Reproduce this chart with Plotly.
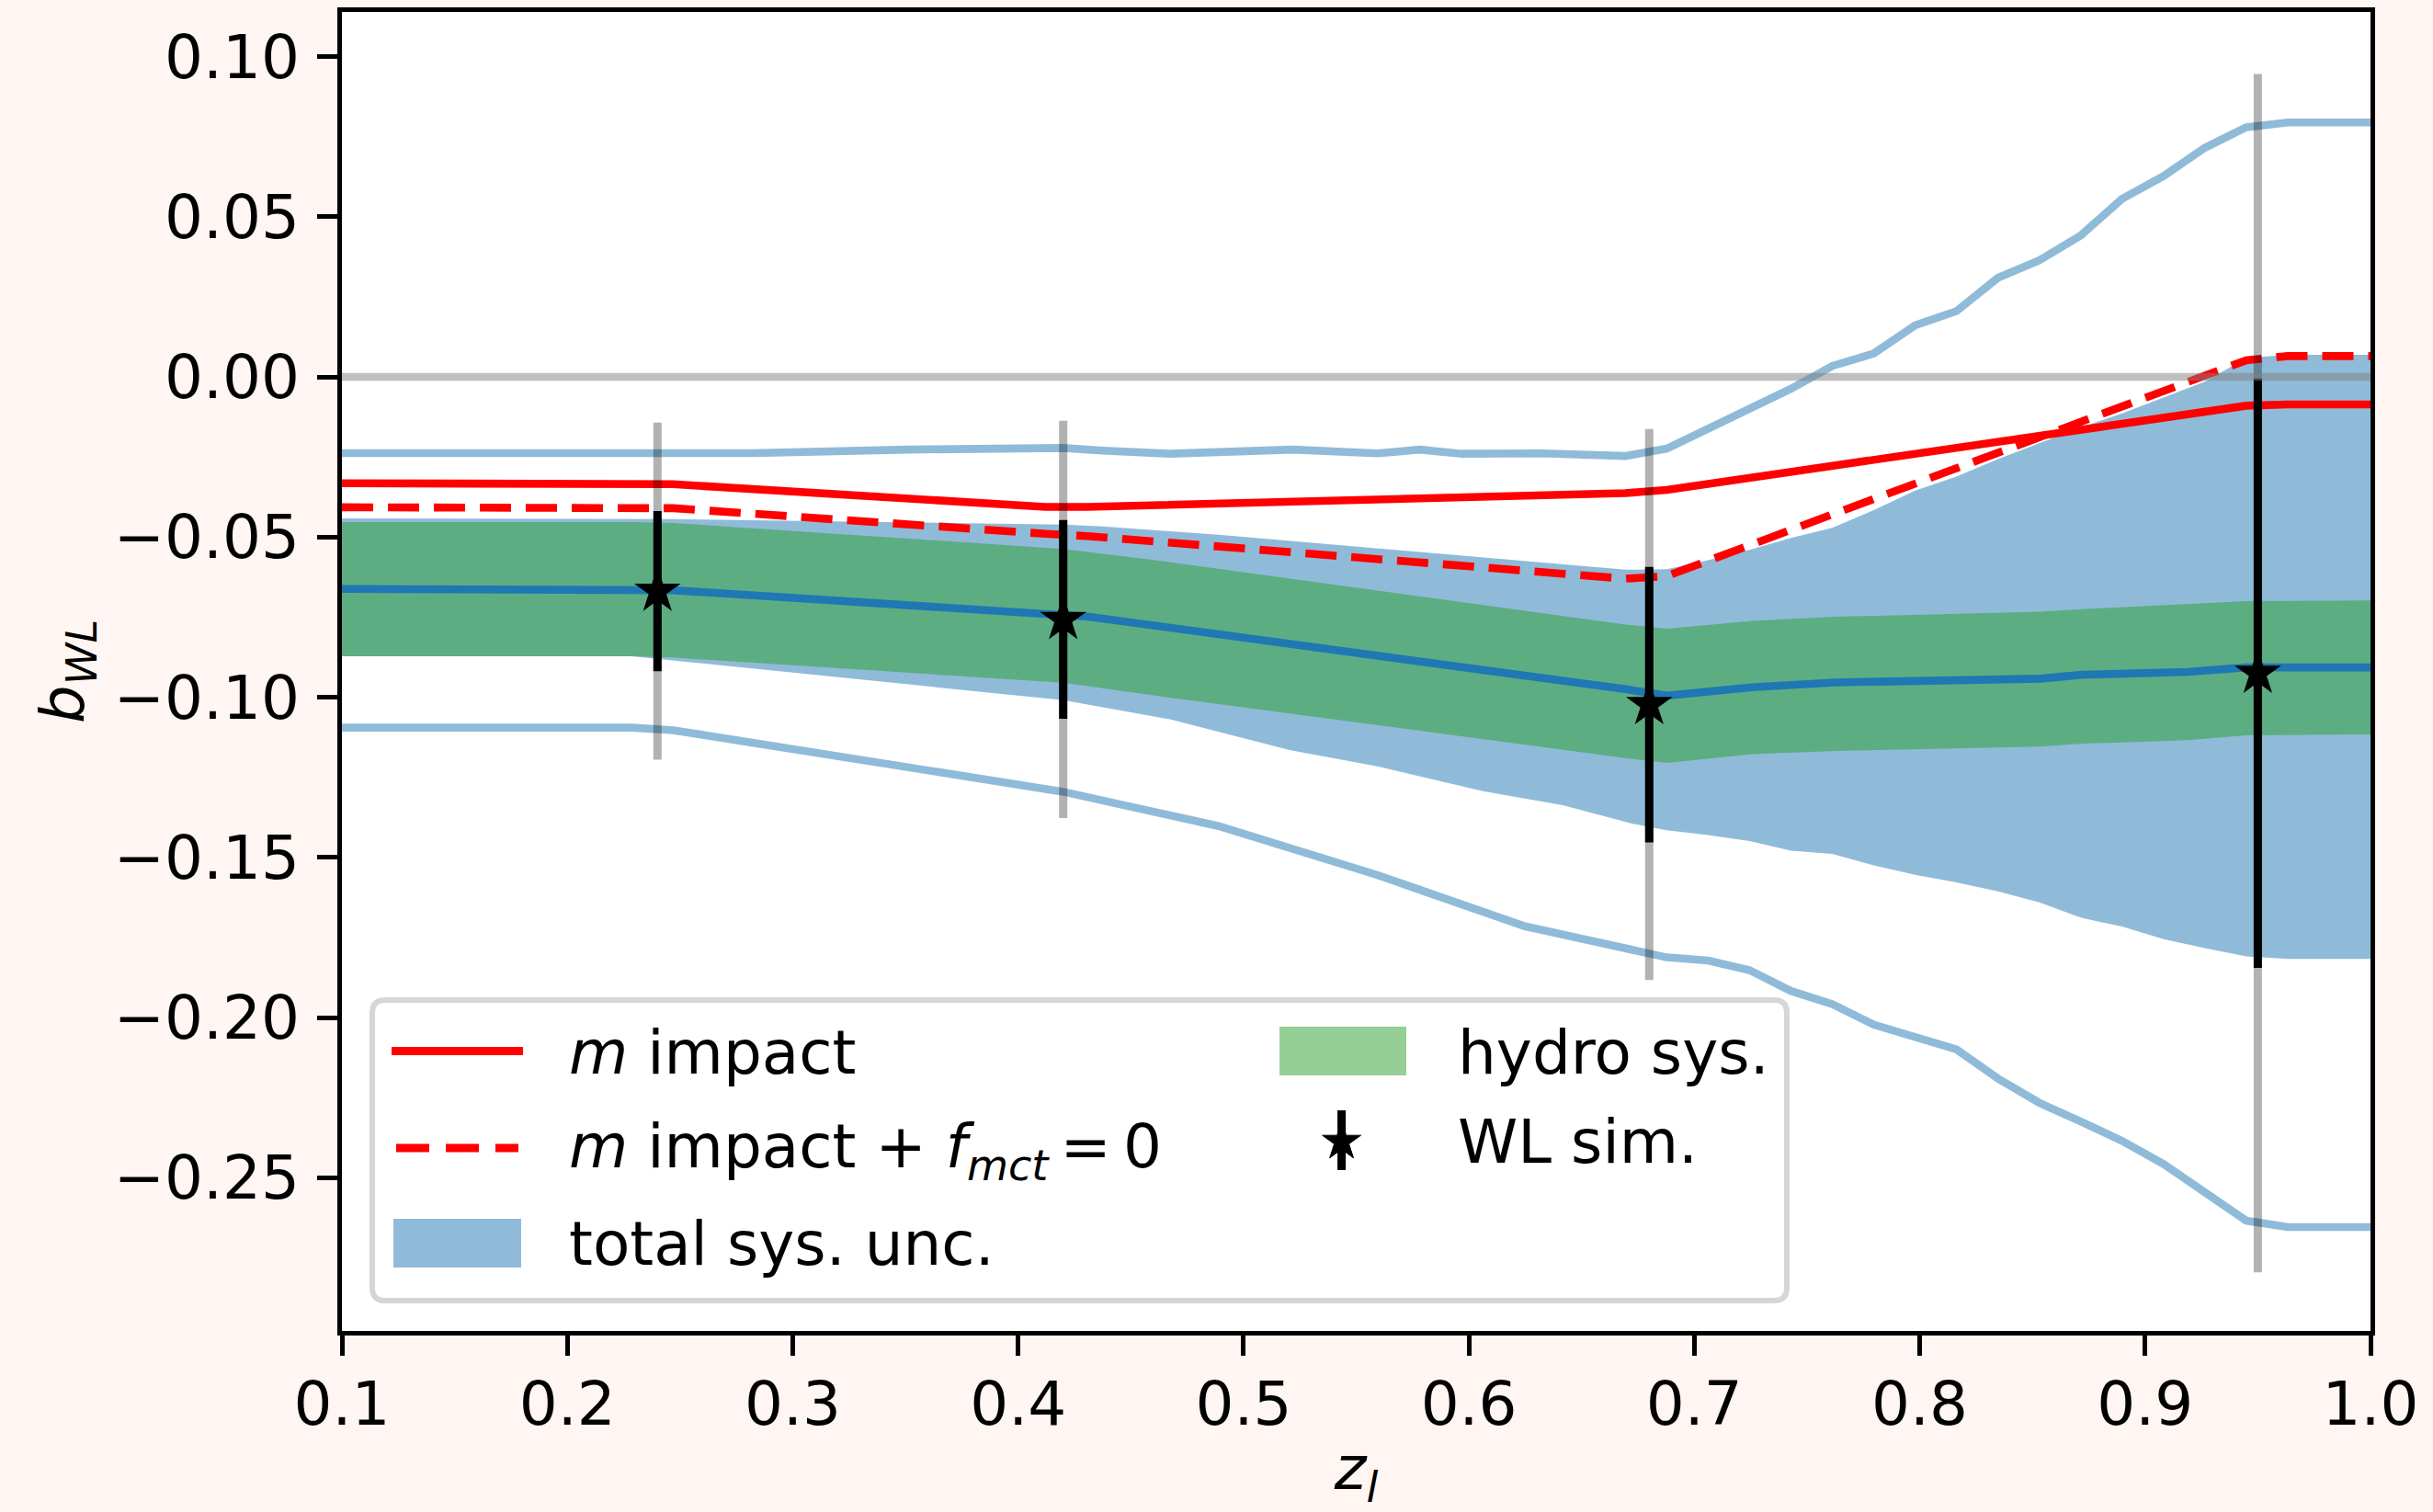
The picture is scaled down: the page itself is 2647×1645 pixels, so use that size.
import math
import plotly.graph_objects as go

# ---------------- data ----------------
# WL simulation points
z_wl = [0.24, 0.42, 0.68, 0.95]
b_wl = [-0.0669, -0.0757, -0.1023, -0.0925]
err_stat = [0.025, 0.031, 0.043, 0.092]
err_tot = [0.0526, 0.062, 0.086, 0.187]

# central model line
z_c = [0.1, 0.2286, 0.2469, 0.4122, 0.4306, 0.6694, 0.6878, 0.7256, 0.7623, 0.8535, 0.872, 0.919, 0.9449, 1.0]
b_c = [-0.0662, -0.0662, -0.0666, -0.0740, -0.0748, -0.0975, -0.0995, -0.0969, -0.0954, -0.0942, -0.0930, -0.0921, -0.0907, -0.0907]

# m impact (solid red) and m impact + f_mct = 0 (dashed red)
z_m = [0.1, 0.2286, 0.2469, 0.4122, 0.4306, 0.6694, 0.6878, 0.9449, 0.9633, 1.0]
b_m = [-0.0332, -0.0332, -0.0335, -0.0406, -0.0406, -0.0363, -0.0353, -0.0090, -0.0086, -0.0086]
b_mf = [-0.0407, -0.0407, -0.0410, -0.0490, -0.0497, -0.0630, -0.0622, 0.0052, 0.0065, 0.0065]

# hydro sys. band
z_g = [0.1, 0.2286, 0.2469, 0.42, 0.4585, 0.6694, 0.6878, 0.7256, 0.7623, 0.8535, 0.872, 0.919, 0.9449, 1.0]
b_g_hi = [-0.0453, -0.0453, -0.0456, -0.0537, -0.0570, -0.0773, -0.0786, -0.0762, -0.0749, -0.0733, -0.0725, -0.0710, -0.0700, -0.0698]
b_g_lo = [-0.0872, -0.0872, -0.0876, -0.0955, -0.0993, -0.1190, -0.1205, -0.1178, -0.1168, -0.1154, -0.1145, -0.1134, -0.1119, -0.1116]

# total sys. unc. band
z_t_hi = [0.1, 0.2286, 0.2469, 0.42, 0.4377, 0.4889, 0.6694, 0.6878, 0.7061, 0.7245, 0.7429, 0.7612, 0.7796,
          0.798, 0.8163, 0.8347, 0.8531, 0.8714, 0.8898, 0.9082, 0.9265, 0.9449, 0.9633, 1.0]
b_t_hi = [-0.0442, -0.0442, -0.0444, -0.0461, -0.0467, -0.0493, -0.0602, -0.0600, -0.0572, -0.0540, -0.0503, -0.0471,
          -0.0416, -0.0355, -0.0311, -0.0257, -0.0207, -0.0158, -0.0114, -0.0065, -0.0015, 0.0059, 0.0069, 0.0069]
z_t_lo = [0.1, 0.2286, 0.2469, 0.42, 0.4673, 0.5204, 0.5594, 0.6062, 0.6416, 0.6727, 0.6878, 0.7061, 0.7245, 0.7429,
          0.7612, 0.7796, 0.798, 0.8163, 0.8347, 0.8531, 0.8714, 0.8898, 0.9082, 0.9265, 0.9449, 0.9633, 1.0]
b_t_lo = [-0.0872, -0.0872, -0.0885, -0.1009, -0.1069, -0.1165, -0.1216, -0.1293, -0.1337, -0.1395, -0.1415, -0.1430,
          -0.1449, -0.1479, -0.1489, -0.1525, -0.1554, -0.1578, -0.1606, -0.1640, -0.1688, -0.1716, -0.1755, -0.1783,
          -0.1809, -0.1817, -0.1817]

# outer light-blue envelope lines
z_up = [0.1, 0.2286, 0.2827, 0.351, 0.395, 0.42, 0.4377, 0.4673, 0.522, 0.5594, 0.5781, 0.5969, 0.6328, 0.6694,
        0.6878, 0.7061, 0.7245, 0.7429, 0.7612, 0.7796, 0.798, 0.8163, 0.8347, 0.8531, 0.8714, 0.8898, 0.9082,
        0.9265, 0.9449, 0.9633, 1.0]
b_up = [-0.0238, -0.0238, -0.0238, -0.0227, -0.0221, -0.0222, -0.0230, -0.0240, -0.0227, -0.0239, -0.0227, -0.0240,
        -0.0239, -0.0247, -0.0224, -0.0160, -0.0097, -0.0037, 0.0034, 0.0073, 0.0161, 0.0205, 0.0309, 0.0364,
        0.0441, 0.0556, 0.0627, 0.0715, 0.0779, 0.0794, 0.0794]
z_dn = [0.1, 0.2286, 0.2469, 0.42, 0.4889, 0.5594, 0.6249, 0.6694, 0.6878, 0.7061, 0.7245, 0.7429, 0.7612, 0.7796,
        0.798, 0.8163, 0.8347, 0.8531, 0.8714, 0.8898, 0.9082, 0.9265, 0.9449, 0.9633, 1.0]
b_dn = [-0.1095, -0.1095, -0.1103, -0.1295, -0.1402, -0.1555, -0.1715, -0.1785, -0.1812, -0.1822, -0.1852, -0.1917,
        -0.1958, -0.2022, -0.2061, -0.2099, -0.2190, -0.2266, -0.2324, -0.2385, -0.2457, -0.2543, -0.2634, -0.2654,
        -0.2654]

zero_level = 0.0
x_ticks = [0.1, 0.2, 0.3, 0.4, 0.5, 0.6, 0.7, 0.8, 0.9, 1.0]
y_ticks = [-0.25, -0.20, -0.15, -0.10, -0.05, 0.00, 0.05, 0.10]

# ---------------- styling ----------------
W, H = 2647, 1645
ML, MR, MT, MB = 372, 68, 13, 197
PW, PH = W - ML - MR, H - MT - MB
FONT = "DejaVu Sans"
FS = 66
LW = 8.6
BLUE = "#1f77b4"
BLUE_A = "rgba(31,119,180,0.5)"
GREEN_A = "rgba(44,160,44,0.5)"
RED = "#ff0000"
PAPER = "#fff5f2"


def pxx(p):
    return (p - ML) / PW


def pxy(p):
    return (H - MB - p) / PH


fig = go.Figure()

# total sys. unc. band
fig.add_trace(go.Scatter(x=z_t_hi + z_t_lo[::-1], y=b_t_hi + b_t_lo[::-1], fill="toself",
                         fillcolor=BLUE_A, mode="lines", line=dict(width=0), hoverinfo="skip"))
# hydro sys. band
fig.add_trace(go.Scatter(x=z_g + z_g[::-1], y=b_g_hi + b_g_lo[::-1], fill="toself",
                         fillcolor=GREEN_A, mode="lines", line=dict(width=0), hoverinfo="skip"))
# central line
fig.add_trace(go.Scatter(x=z_c, y=b_c, mode="lines", line=dict(color=BLUE, width=LW)))
# envelope lines
fig.add_trace(go.Scatter(x=z_up, y=b_up, mode="lines", line=dict(color=BLUE_A, width=LW)))
fig.add_trace(go.Scatter(x=z_dn, y=b_dn, mode="lines", line=dict(color=BLUE_A, width=LW)))
# red lines
fig.add_trace(go.Scatter(x=z_m, y=b_m, mode="lines", line=dict(color=RED, width=LW), name="m impact"))
fig.add_trace(go.Scatter(x=z_m, y=b_mf, mode="lines", line=dict(color=RED, width=LW, dash="34px,16px"),
                         name="m impact + f_mct = 0"))
# total error bars (grey)
fig.add_trace(go.Scatter(x=z_wl, y=b_wl, mode="markers", marker=dict(size=2, opacity=0),
                         error_y=dict(type="data", array=err_tot, visible=True, color="rgba(0,0,0,0.3)",
                                      thickness=9, width=0)))
# WL sim. with stat error bars
fig.add_trace(go.Scatter(x=z_wl, y=b_wl, mode="markers", name="WL sim.",
                         marker=dict(symbol="star", size=38, color="black", line=dict(width=0)),
                         error_y=dict(type="data", array=err_stat, visible=True, color="black",
                                      thickness=9, width=0)))
# zero line
fig.add_trace(go.Scatter(x=[x_ticks[0], x_ticks[-1]], y=[zero_level, zero_level], mode="lines",
                         line=dict(color="rgba(128,128,128,0.5)", width=LW), hoverinfo="skip"))

# ---------------- manual legend ----------------
shapes = []
x0, x1, y0, y1 = pxx(405), pxx(1944), pxy(1415), pxy(1088)
rx, ry = 14 / PW, 14 / PH
path = (f"M{x0+rx},{y1} L{x1-rx},{y1} Q{x1},{y1} {x1},{y1-ry} L{x1},{y0+ry} Q{x1},{y0} {x1-rx},{y0} "
        f"L{x0+rx},{y0} Q{x0},{y0} {x0},{y0+ry} L{x0},{y1-ry} Q{x0},{y1} {x0+rx},{y1} Z")
shapes.append(dict(type="path", path=path, xref="paper", yref="paper", fillcolor="white",
                   line=dict(color="#d6d6d6", width=6), layer="above"))
shapes.append(dict(type="line", xref="paper", yref="paper", x0=pxx(426), x1=pxx(569), y0=pxy(1143.5),
                   y1=pxy(1143.5), line=dict(color=RED, width=9), layer="above"))
shapes.append(dict(type="line", xref="paper", yref="paper", x0=pxx(431), x1=pxx(564), y0=pxy(1249),
                   y1=pxy(1249), line=dict(color=RED, width=9, dash="36px,18px"), layer="above"))
shapes.append(dict(type="rect", xref="paper", yref="paper", x0=pxx(428), x1=pxx(567), y0=pxy(1379),
                   y1=pxy(1326), fillcolor=BLUE_A, line=dict(width=0), layer="above"))
shapes.append(dict(type="rect", xref="paper", yref="paper", x0=pxx(1392), x1=pxx(1530), y0=pxy(1170),
                   y1=pxy(1117), fillcolor=GREEN_A, line=dict(width=0), layer="above"))
shapes.append(dict(type="line", xref="paper", yref="paper", x0=pxx(1459.6), x1=pxx(1459.6), y0=pxy(1273),
                   y1=pxy(1208), line=dict(color="black", width=9), layer="above"))
# star glyph for the legend handle
cx, cy, Ro, Ri = 1459.6, 1242, 22, 22 * 0.381966
pts = []
for k in range(10):
    ang = -math.pi / 2 + k * math.pi / 5
    rr = Ro if k % 2 == 0 else Ri
    pts.append((pxx(cx + rr * math.cos(ang)), pxy(cy + rr * math.sin(ang))))
star_path = "M" + " L".join(f"{a},{b}" for a, b in pts) + " Z"
shapes.append(dict(type="path", path=star_path, xref="paper", yref="paper", fillcolor="black",
                   line=dict(color="black", width=1), layer="above"))

ann_font = dict(family=FONT, size=FS, color="black")
legend_texts = [
    (617, 1145, "<i>m</i> impact"),
    (617, 1252, "<i>m</i> impact + <i>f</i><sub><i>mct</i></sub>\u2009=\u20090"),
    (617, 1353, "total sys. unc."),
    (1584, 1145, "hydro sys."),
    (1584, 1242, "WL sim."),
]
annotations = [dict(x=pxx(a), y=pxy(b), xref="paper", yref="paper", text=t, showarrow=False,
                    xanchor="left", yanchor="middle", font=ann_font) for a, b, t in legend_texts]

fig.update_layout(
    width=W, height=H,
    margin=dict(l=ML, r=MR, t=MT, b=MB, autoexpand=False),
    paper_bgcolor=PAPER,
    plot_bgcolor="white",
    showlegend=False,
    font=dict(family=FONT, size=FS, color="black"),
    shapes=shapes,
    annotations=annotations,
)
axis_common = dict(showgrid=False, zeroline=False, showline=True, linecolor="black", linewidth=4.5,
                   mirror=True, ticks="outside", ticklen=22, tickwidth=4.5, tickcolor="black",
                   automargin=True, tickfont=dict(family=FONT, size=FS, color="black"))
fig.update_xaxes(range=[0.1, 1.0], tickvals=x_ticks, tickformat=".1f", ticklabelstandoff=-4,
                 title=dict(text="<i>z</i><sub><i>l</i></sub>", font=dict(family=FONT, size=FS), standoff=34),
                 **axis_common)
fig.update_yaxes(range=[-0.2978, 0.1139], tickvals=y_ticks, tickformat=".2f", ticklabelstandoff=6,
                 title=dict(text="<i>b</i><sub><i>WL</i></sub>", font=dict(family=FONT, size=FS), standoff=12),
                 **axis_common)

fig.write_html("out.html",
               config={"displayModeBar": False},
               post_script="document.body.style.margin='0px';"
                           "document.body.style.background='" + PAPER + "';"
                           "document.body.style.overflow='hidden';")
